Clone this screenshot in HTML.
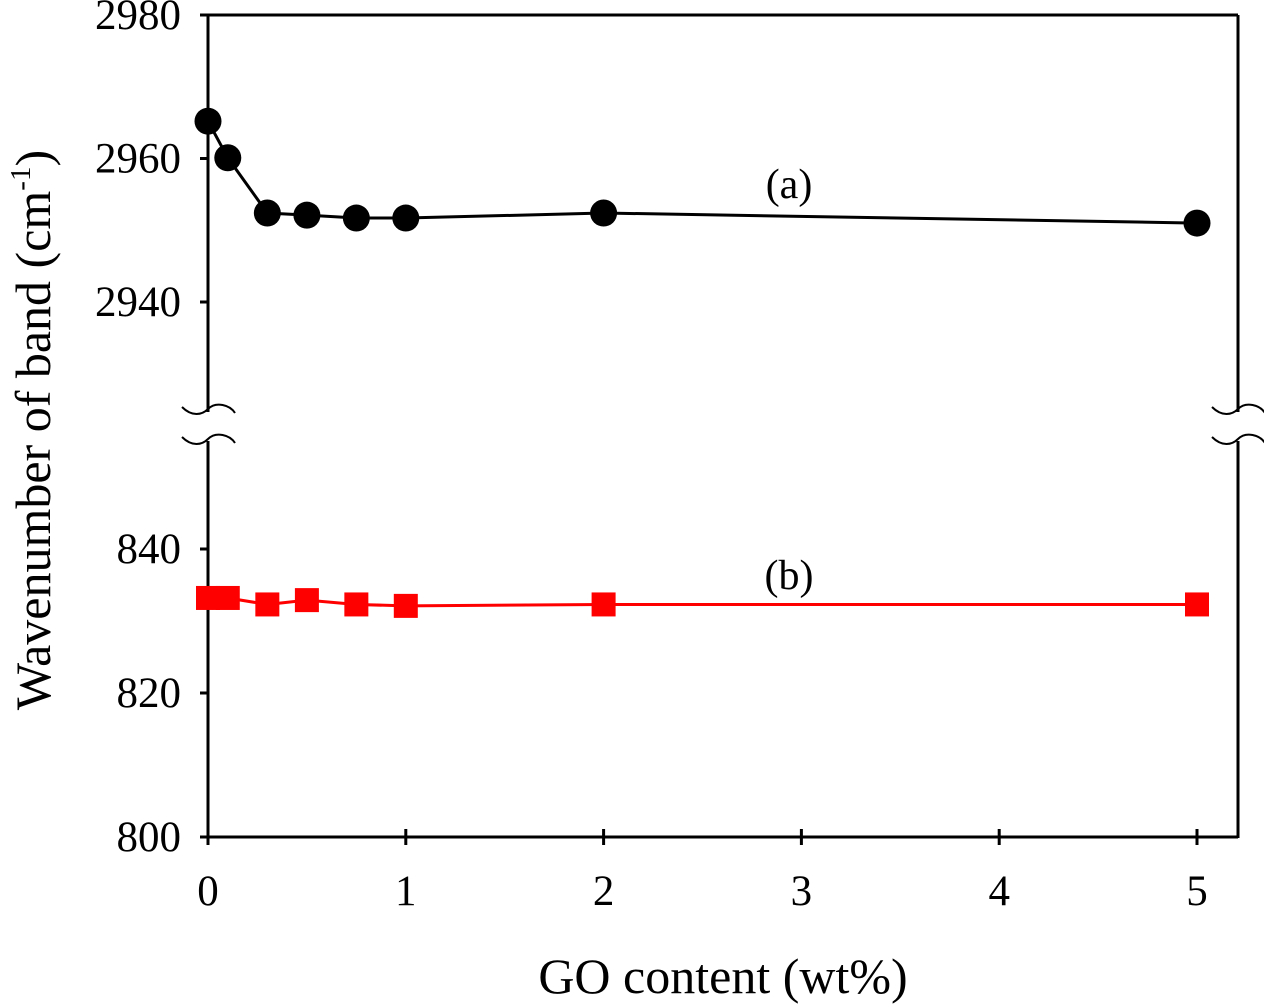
<!DOCTYPE html>
<html><head><meta charset="utf-8"><style>
html,body{margin:0;padding:0;background:#fff;}
svg{display:block;font-family:"Liberation Serif",serif;}
</style></head><body>
<svg id="chart" width="1264" height="1006" viewBox="0 0 1264 1006"></svg>
<script>
const goContent = [0, 0.1, 0.3, 0.5, 0.75, 1, 2, 5];
const bandA = [2965.2, 2960.1, 2952.4, 2952.1, 2951.7, 2951.7, 2952.4, 2951.0];
const bandB = [833.2, 833.2, 832.3, 832.9, 832.3, 832.1, 832.3, 832.3];
const xTicks = [0, 1, 2, 3, 4, 5];
const yTicksUpper = [2980, 2960, 2940];
const yTicksLower = [840, 820, 800];

const NS = "http://www.w3.org/2000/svg";
const svg = document.getElementById('chart');
const L = 208, R = 1238, T = 15, B = 837;
function xs(v){ return L + v * (1197 - L) / 5; }
function ysU(v){ return T + (2980 - v) * (302 - T) / 40; }
function ysL(v){ return B - (v - 800) * (837 - 549) / 40; }
function mk(tag, attrs){ const e = document.createElementNS(NS, tag); for (const k in attrs) e.setAttribute(k, attrs[k]); svg.appendChild(e); return e; }

let e;
e = mk('line',{x1:L,y1:T,x2:L,y2:412,stroke:'#000','stroke-width':3});
 
e = mk('line',{x1:L,y1:441,x2:L,y2:B+1,stroke:'#000','stroke-width':3});
 
e = mk('line',{x1:R,y1:T,x2:R,y2:412,stroke:'#000','stroke-width':3});
 
e = mk('line',{x1:R,y1:441,x2:R,y2:B+1,stroke:'#000','stroke-width':3});
 
e = mk('line',{x1:200,y1:T,x2:R,y2:T,stroke:'#000','stroke-width':3});
 
e = mk('line',{x1:200,y1:B,x2:R,y2:B,stroke:'#000','stroke-width':3});
 

[L, R].forEach(function(ax){
  [413, 443].forEach(function(y){
    e = mk('path',{d:`M${ax-26},${y-6} C${ax-16},${y+4} ${ax-6},${y+2} ${ax},${y-4} C${ax+8},${y-12} ${ax+22},${y-8} ${ax+27},${y}`,fill:'none',stroke:'#000','stroke-width':2});
     
  });
});

xTicks.forEach(function(v){
  const x = xs(v);
  e = mk('line',{x1:x,y1:829,x2:x,y2:845,stroke:'#000','stroke-width':3});
   
  e = mk('text',{x:x,y:905,'font-size':43,'text-anchor':'middle'}); e.textContent = v;
   
});
yTicksUpper.forEach(function(v){
  const y = ysU(v);
  e = mk('line',{x1:200,y1:y,x2:L,y2:y,stroke:'#000','stroke-width':3});
   
  e = mk('text',{x:181,y:y+14,'font-size':43,'text-anchor':'end'}); e.textContent = v;
   
});
yTicksLower.forEach(function(v){
  const y = ysL(v);
  e = mk('line',{x1:200,y1:y,x2:L,y2:y,stroke:'#000','stroke-width':3});
   
  e = mk('text',{x:181,y:y+14,'font-size':43,'text-anchor':'end'}); e.textContent = v;
   
});

e = mk('polyline',{points:goContent.map((v,i)=>xs(v)+','+ysU(bandA[i])).join(' '),fill:'none',stroke:'#000','stroke-width':3});
 
goContent.forEach(function(v,i){
  e = mk('circle',{cx:xs(v),cy:ysU(bandA[i]),r:13.5,fill:'#000'});
   
});
e = mk('polyline',{points:goContent.map((v,i)=>xs(v)+','+ysL(bandB[i])).join(' '),fill:'none',stroke:'#f00','stroke-width':3});
 
goContent.forEach(function(v,i){
  e = mk('rect',{x:xs(v)-12,y:ysL(bandB[i])-12,width:24,height:24,fill:'#f00'});
   
});

e = mk('text',{x:789,y:198,'font-size':42,'text-anchor':'middle'}); e.textContent='(a)';
 
e = mk('text',{x:789,y:589,'font-size':42,'text-anchor':'middle'}); e.textContent='(b)';
 
e = mk('text',{x:723,y:993,'font-size':50,'text-anchor':'middle'}); e.textContent='GO content (wt%)';
 
e = mk('text',{x:0,y:0,'font-size':50,'text-anchor':'middle',transform:'translate(50,430) rotate(-90)'});
 
e.innerHTML = 'Wavenumber of band (cm<tspan dy="-20" font-size="29">-1</tspan><tspan dy="20">)</tspan>';
</script>
</body></html>
